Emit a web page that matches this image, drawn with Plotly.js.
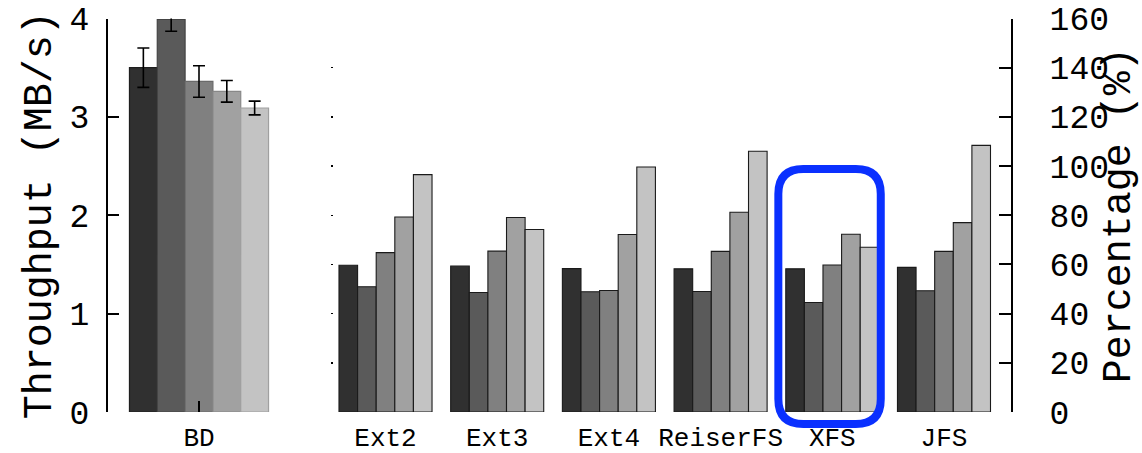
<!DOCTYPE html>
<html>
<head>
<meta charset="utf-8">
<script src="https://cdn.plot.ly/plotly-3.0.1.min.js"></script>
<style>
  html, body { margin: 0; padding: 0; background: #fff; }
  #chart { width: 1142px; height: 453px; }
</style>
</head>
<body>
<div id="chart"></div>
<script>
// ---- data ----
const bdCategory = ['BD'];
const fsCategories = ['Ext2', 'Ext3', 'Ext4', 'ReiserFS', 'XFS', 'JFS'];
const seriesNames = ['Config 1', 'Config 2', 'Config 3', 'Config 4', 'Config 5'];

// Block device throughput (MB/s), one value per series
const bdThroughput = [3.50, 3.99, 3.36, 3.26, 3.09];
const bdErrPlus    = [0.20, 0.03, 0.16, 0.11, 0.07];
const bdErrMinus   = [0.20, 0.12, 0.16, 0.11, 0.07];

// File-system throughput as percentage of BD
const pctSeries1 = [59.7, 59.3, 58.3, 58.2, 58.2, 58.8];
const pctSeries2 = [50.9, 48.6, 48.9, 49.0, 44.5, 49.3];
const pctSeries3 = [64.8, 65.4, 49.4, 65.3, 59.8, 65.3];
const pctSeries4 = [79.3, 79.1, 72.2, 81.2, 72.3, 77.0];
const pctSeries5 = [96.5, 74.2, 99.6, 106.0, 67.0, 108.4];

const highlightCategory = 'XFS';

const leftTicks = [0, 1, 2, 3, 4];
const rightTicks = [0, 20, 40, 60, 80, 100, 120, 140, 160];

// ---- style ----
const fills = ['#303030', '#5a5a5a', '#808080', '#a1a1a1', '#c3c3c3'];
const bdEdges = ['#1e1e1e', '#444444', '#6a6a6a', '#888888', '#a0a0a0'];
const mono = 'Liberation Mono, Courier New, monospace';

const W = 1142, H = 453;
const yTop = 18.5, yBot = 412;
const yDomain = [(H - yBot) / H, (H - yTop) / H];
const x1Domain = [108 / W, 290 / W];
const x2Domain = [331 / W, 1011 / W];
const x1Range = [-0.545, 0.545];
const x2Range = [-0.488, 5.6];

const pctSeries = [pctSeries1, pctSeries2, pctSeries3, pctSeries4, pctSeries5];

const traces = [];
seriesNames.forEach((name, i) => {
  traces.push({
    type: 'bar', name: name, x: bdCategory, y: [bdThroughput[i]],
    xaxis: 'x', yaxis: 'y', cliponaxis: false,
    marker: { color: fills[i], line: { color: bdEdges[i], width: 1.2 } },
    error_y: { type: 'data', symmetric: false, array: [bdErrPlus[i]], arrayminus: [bdErrMinus[i]],
               color: '#000', thickness: 1.6, width: 6 },
    showlegend: false, hoverinfo: 'x+y'
  });
});
seriesNames.forEach((name, i) => {
  traces.push({
    type: 'bar', name: name, x: fsCategories, y: pctSeries[i],
    xaxis: 'x2', yaxis: 'y2',
    marker: { color: fills[i], line: { color: '#1a1a1a', width: 1.1 } },
    showlegend: false
  });
});
// carrier for the small left-side tick dots of the right panel
traces.push({ type: 'scatter', x: [], y: [], xaxis: 'x2', yaxis: 'y3', showlegend: false, hoverinfo: 'skip' });

// highlight box around the chosen category (paper coords derived from category index)
const hi = fsCategories.indexOf(highlightCategory);
function x2paper(v) {
  return x2Domain[0] + (v - x2Range[0]) / (x2Range[1] - x2Range[0]) * (x2Domain[1] - x2Domain[0]);
}
const bx0 = x2paper(hi - 0.483), bx1 = x2paper(hi + 0.434);
const by1 = (H - 169) / H, by0 = (H - 424) / H;
const rx = 25 / W, ry = 25 / H;
const boxPath = `M ${bx0 + rx},${by1} L ${bx1 - rx},${by1} Q ${bx1},${by1} ${bx1},${by1 - ry} ` +
  `L ${bx1},${by0 + ry} Q ${bx1},${by0} ${bx1 - rx},${by0} L ${bx0 + rx},${by0} ` +
  `Q ${bx0},${by0} ${bx0},${by0 + ry} L ${bx0},${by1 - ry} Q ${bx0},${by1} ${bx0 + rx},${by1} Z`;

const layout = {
  width: W, height: H,
  margin: { l: 0, r: 0, t: 0, b: 0, pad: 0 },
  paper_bgcolor: '#fff', plot_bgcolor: '#fff',
  barmode: 'group', bargap: 0.167, bargroupgap: 0,
  showlegend: false,
  font: { family: mono, color: '#000' },
  xaxis: {
    domain: x1Domain, range: x1Range, type: 'category', anchor: 'y',
    showline: false, showgrid: false, zeroline: false,
    ticks: 'inside', ticklen: 11, tickwidth: 2, tickcolor: '#000',
    tickfont: { family: mono, size: 26, color: '#000' }, ticklabelstandoff: 7,
    fixedrange: true
  },
  xaxis2: {
    domain: x2Domain, range: x2Range, type: 'category', anchor: 'y2',
    showline: false, showgrid: false, zeroline: false, ticks: '',
    tickfont: { family: mono, size: 26, color: '#000' }, ticklabelstandoff: 7,
    fixedrange: true
  },
  yaxis: {
    domain: yDomain, range: [0, 4], anchor: 'x', tickvals: leftTicks,
    showline: true, linewidth: 2, linecolor: '#000', showgrid: false, zeroline: false,
    ticks: 'inside', ticklen: 11, tickwidth: 2, tickcolor: '#000',
    tickfont: { family: mono, size: 33, color: '#000' }, ticklabelstandoff: 10,
    title: { text: 'Throughput (MB/s)', font: { family: mono, size: 40, color: '#000' }, standoff: 6 },
    fixedrange: true
  },
  yaxis2: {
    domain: yDomain, range: [0, 160], anchor: 'x2', side: 'right', tickvals: rightTicks,
    showline: true, linewidth: 2, linecolor: '#000', showgrid: false, zeroline: false,
    ticks: 'inside', ticklen: 12, tickwidth: 2, tickcolor: '#000',
    tickfont: { family: mono, size: 33, color: '#000' }, ticklabelstandoff: 30,
    title: { text: 'Percentage (%)', font: { family: mono, size: 40, color: '#000' }, standoff: 0 },
    fixedrange: true
  },
  yaxis3: {
    overlaying: 'y2', range: [0, 160], anchor: 'x2', side: 'left', tickvals: rightTicks,
    showline: false, showgrid: false, zeroline: false, showticklabels: false,
    ticks: 'inside', ticklen: 2, tickwidth: 1.5, tickcolor: '#000', fixedrange: true
  },
  shapes: [{
    type: 'path', xref: 'paper', yref: 'paper', path: boxPath,
    line: { color: '#0a30ff', width: 8 }, fillcolor: 'rgba(0,0,0,0)', layer: 'above'
  }]
};

Plotly.newPlot('chart', traces, layout, { staticPlot: true, displayModeBar: false });
</script>
</body>
</html>
